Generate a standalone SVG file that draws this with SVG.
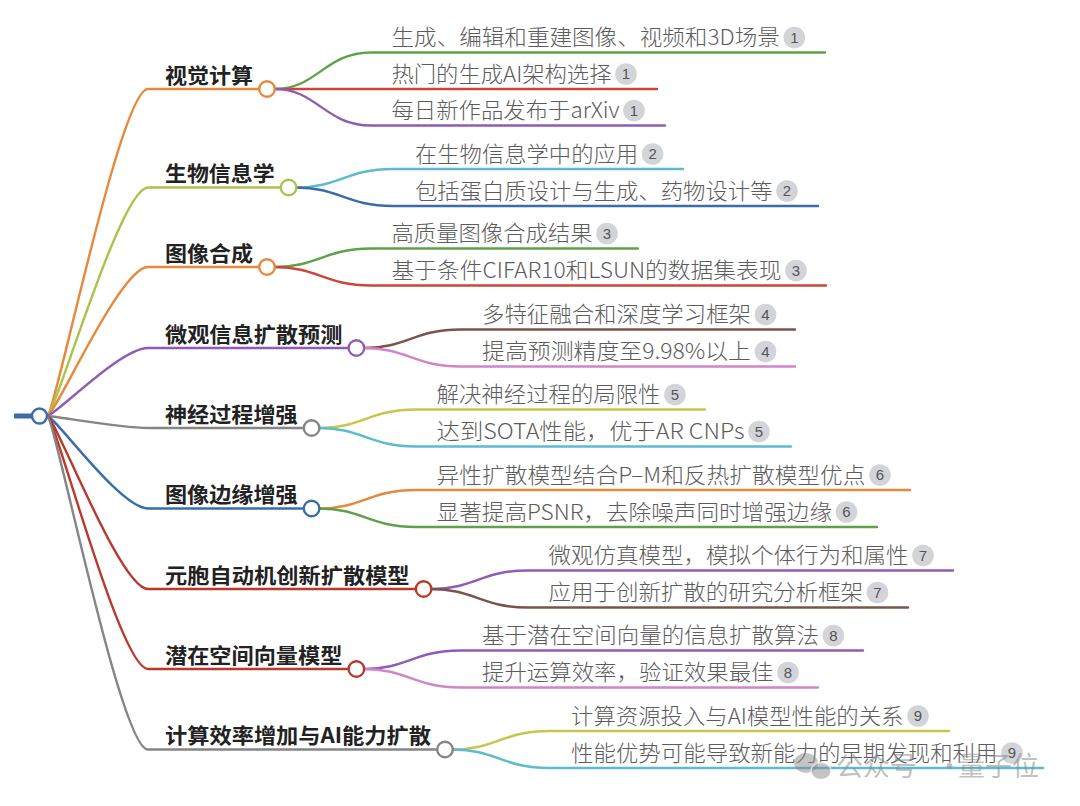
<svg xmlns="http://www.w3.org/2000/svg" width="1080" height="806" viewBox="0 0 1080 806">
<style>
.bt{font-family:"Noto Sans CJK SC","Noto Sans",sans-serif;font-weight:700;font-size:21px;fill:#222}
.st{font-family:"Noto Sans CJK SC","Noto Sans",sans-serif;font-weight:300;font-size:22px;fill:#5c5c5c}
.bn{font-family:"Liberation Sans","Noto Sans",sans-serif;font-size:15px;fill:#555;text-anchor:middle}
.bg{fill:#D2D4D9}
.ln{fill:none;stroke-width:2.4;stroke-linecap:round}
.nd{fill:#fff;stroke-width:2.4}
.wm{font-family:"Noto Sans CJK SC",sans-serif;font-size:27px;fill:#8a8a8a;fill-opacity:0.55}
</style>
<rect width="1080" height="806" fill="#fff"/>
<g id="connectors">
  <path class="ln" stroke="#E8883A" d="M47 416 C55 416 120 89 148 89 L259 89"/>
  <path class="ln" stroke="#AAC44B" d="M47 416 C55 416 120 187.5 148 187.5 L280.6 187.5"/>
  <path class="ln" stroke="#E8883A" d="M47 416 C55 416 120 267 148 267 L259 267"/>
  <path class="ln" stroke="#8E5CB5" d="M47 416 C55 416 120 348 148 348 L348.4 348"/>
  <path class="ln" stroke="#858585" d="M47 416 C55 416 120 428 148 428 L303.6 428"/>
  <path class="ln" stroke="#3A6DA8" d="M47 416 C55 416 120 508.5 148 508.5 L303.6 508.5"/>
  <path class="ln" stroke="#B83A2F" d="M47 416 C55 416 120 589 148 589 L415.6 589"/>
  <path class="ln" stroke="#B83A2F" d="M47 416 C55 416 120 669 148 669 L348.4 669"/>
  <path class="ln" stroke="#858585" d="M47 416 C55 416 120 749.5 148 749.5 L437 749.5"/>
  <path class="ln" stroke="#5FA148" d="M275 89 C317 89 325 52.5 371 52.5 L825 52.5"/>
  <path class="ln" stroke="#C9463A" d="M275 89 L657 89"/>
  <path class="ln" stroke="#8E5CB5" d="M275 89 C317 89 325 125.5 371 125.5 L665 125.5"/>
  <path class="ln" stroke="#5BBCCF" d="M296.6 187.5 C338.6 187.5 346.6 169 392.6 169 L683 169"/>
  <path class="ln" stroke="#3A6DA8" d="M296.6 187.5 C338.6 187.5 346.6 206 392.6 206 L818 206"/>
  <path class="ln" stroke="#5FA148" d="M275 267 C317 267 325 248.5 371 248.5 L638 248.5"/>
  <path class="ln" stroke="#C9463A" d="M275 267 C317 267 325 285.5 371 285.5 L826 285.5"/>
  <path class="ln" stroke="#7B5449" d="M364.4 348 C406.4 348 414.4 329.5 460.4 329.5 L795 329.5"/>
  <path class="ln" stroke="#D185C9" d="M364.4 348 C406.4 348 414.4 366.5 460.4 366.5 L795 366.5"/>
  <path class="ln" stroke="#C6C64B" d="M319.6 428 C361.6 428 369.6 409.5 415.6 409.5 L705 409.5"/>
  <path class="ln" stroke="#5BBCCF" d="M319.6 428 C361.6 428 369.6 446.5 415.6 446.5 L791 446.5"/>
  <path class="ln" stroke="#E8883A" d="M319.6 508.5 C361.6 508.5 369.6 490 415.6 490 L910 490"/>
  <path class="ln" stroke="#5FA148" d="M319.6 508.5 C361.6 508.5 369.6 527 415.6 527 L877 527"/>
  <path class="ln" stroke="#8E5CB5" d="M431.6 589 C473.6 589 481.6 570.5 527.6 570.5 L953 570.5"/>
  <path class="ln" stroke="#7B5449" d="M431.6 589 C473.6 589 481.6 607.5 527.6 607.5 L908 607.5"/>
  <path class="ln" stroke="#8E5CB5" d="M364.4 669 C406.4 669 414.4 650.5 460.4 650.5 L863 650.5"/>
  <path class="ln" stroke="#D185C9" d="M364.4 669 C406.4 669 414.4 687.5 460.4 687.5 L818 687.5"/>
  <path class="ln" stroke="#C6C64B" d="M453 749.5 C495 749.5 503 731 549 731 L949 731"/>
  <path class="ln" stroke="#5BBCCF" d="M453 749.5 C495 749.5 503 768 549 768 L1043 768"/>
</g>
<g id="root">
  <line x1="14" y1="416" x2="32" y2="416" stroke="#3A6DA8" stroke-width="5"/>
  <circle class="nd" cx="39.5" cy="416" r="7.5" stroke="#3A6DA8"/>
</g>
<g id="b1">
  <text class="bt" x="165" y="82.5" textLength="88" lengthAdjust="spacingAndGlyphs">视觉计算</text>
  <circle class="nd" cx="267" cy="89" r="7.8" stroke="#E8883A"/>
</g>
<g id="b1s1"><text class="st" x="391.5" y="45" textLength="388.3" lengthAdjust="spacingAndGlyphs">生成、编辑和重建图像、视频和3D场景</text><circle class="bg" cx="794.3" cy="37.5" r="10.8"/><text class="bn" x="794.3" y="42.8">1</text></g>
<g id="b1s2"><text class="st" x="391.5" y="81.5" textLength="220" lengthAdjust="spacingAndGlyphs">热门的生成AI架构选择</text><circle class="bg" cx="626" cy="74" r="10.8"/><text class="bn" x="626" y="79.3">1</text></g>
<g id="b1s3"><text class="st" x="391.5" y="118" textLength="228" lengthAdjust="spacingAndGlyphs">每日新作品发布于arXiv</text><circle class="bg" cx="634" cy="110.5" r="10.8"/><text class="bn" x="634" y="115.8">1</text></g>
<g id="b2">
  <text class="bt" x="165" y="181" textLength="109.6" lengthAdjust="spacingAndGlyphs">生物信息学</text>
  <circle class="nd" cx="288.6" cy="187.5" r="7.8" stroke="#AAC44B"/>
</g>
<g id="b2s1"><text class="st" x="415" y="161.5" textLength="223.1" lengthAdjust="spacingAndGlyphs">在生物信息学中的应用</text><circle class="bg" cx="652.6" cy="154" r="10.8"/><text class="bn" x="652.6" y="159.3">2</text></g>
<g id="b2s2"><text class="st" x="415" y="198.5" textLength="357.5" lengthAdjust="spacingAndGlyphs">包括蛋白质设计与生成、药物设计等</text><circle class="bg" cx="787" cy="191" r="10.8"/><text class="bn" x="787" y="196.3">2</text></g>
<g id="b3">
  <text class="bt" x="165" y="260.5" textLength="88" lengthAdjust="spacingAndGlyphs">图像合成</text>
  <circle class="nd" cx="267" cy="267" r="7.8" stroke="#E8883A"/>
</g>
<g id="b3s1"><text class="st" x="391.5" y="241" textLength="201" lengthAdjust="spacingAndGlyphs">高质量图像合成结果</text><circle class="bg" cx="607" cy="233.5" r="10.8"/><text class="bn" x="607" y="238.8">3</text></g>
<g id="b3s2"><text class="st" x="391.5" y="278" textLength="390" lengthAdjust="spacingAndGlyphs">基于条件CIFAR10和LSUN的数据集表现</text><circle class="bg" cx="796" cy="270.5" r="10.8"/><text class="bn" x="796" y="275.8">3</text></g>
<g id="b4">
  <text class="bt" x="165" y="341.5" textLength="177.4" lengthAdjust="spacingAndGlyphs">微观信息扩散预测</text>
  <circle class="nd" cx="356.4" cy="348" r="7.8" stroke="#8E5CB5"/>
</g>
<g id="b4s1"><text class="st" x="482" y="322" textLength="269" lengthAdjust="spacingAndGlyphs">多特征融合和深度学习框架</text><circle class="bg" cx="765.5" cy="314.5" r="10.8"/><text class="bn" x="765.5" y="319.8">4</text></g>
<g id="b4s2"><text class="st" x="482" y="359" textLength="269" lengthAdjust="spacingAndGlyphs">提高预测精度至9.98%以上</text><circle class="bg" cx="765.5" cy="351.5" r="10.8"/><text class="bn" x="765.5" y="356.8">4</text></g>
<g id="b5">
  <text class="bt" x="165" y="421.5" textLength="132.6" lengthAdjust="spacingAndGlyphs">神经过程增强</text>
  <circle class="nd" cx="311.6" cy="428" r="7.8" stroke="#858585"/>
</g>
<g id="b5s1"><text class="st" x="436.6" y="402" textLength="223.9" lengthAdjust="spacingAndGlyphs">解决神经过程的局限性</text><circle class="bg" cx="675" cy="394.5" r="10.8"/><text class="bn" x="675" y="399.8">5</text></g>
<g id="b5s2"><text class="st" x="436.6" y="439" textLength="307.9" lengthAdjust="spacingAndGlyphs">达到SOTA性能，优于AR CNPs</text><circle class="bg" cx="759" cy="431.5" r="10.8"/><text class="bn" x="759" y="436.8">5</text></g>
<g id="b6">
  <text class="bt" x="165" y="502" textLength="132.6" lengthAdjust="spacingAndGlyphs">图像边缘增强</text>
  <circle class="nd" cx="311.6" cy="508.5" r="7.8" stroke="#3A6DA8"/>
</g>
<g id="b6s1"><text class="st" x="436.6" y="482.5" textLength="428.9" lengthAdjust="spacingAndGlyphs">异性扩散模型结合P–M和反热扩散模型优点</text><circle class="bg" cx="880" cy="475" r="10.8"/><text class="bn" x="880" y="480.3">6</text></g>
<g id="b6s2"><text class="st" x="436.6" y="519.5" textLength="395.4" lengthAdjust="spacingAndGlyphs">显著提高PSNR，去除噪声同时增强边缘</text><circle class="bg" cx="846.5" cy="512" r="10.8"/><text class="bn" x="846.5" y="517.3">6</text></g>
<g id="b7">
  <text class="bt" x="165" y="582.5" textLength="244.6" lengthAdjust="spacingAndGlyphs">元胞自动机创新扩散模型</text>
  <circle class="nd" cx="423.6" cy="589" r="7.8" stroke="#B83A2F"/>
</g>
<g id="b7s1"><text class="st" x="548.6" y="563" textLength="359.9" lengthAdjust="spacingAndGlyphs">微观仿真模型，模拟个体行为和属性</text><circle class="bg" cx="923" cy="555.5" r="10.8"/><text class="bn" x="923" y="560.8">7</text></g>
<g id="b7s2"><text class="st" x="548.6" y="600" textLength="314.4" lengthAdjust="spacingAndGlyphs">应用于创新扩散的研究分析框架</text><circle class="bg" cx="877.5" cy="592.5" r="10.8"/><text class="bn" x="877.5" y="597.8">7</text></g>
<g id="b8">
  <text class="bt" x="165" y="662.5" textLength="177.4" lengthAdjust="spacingAndGlyphs">潜在空间向量模型</text>
  <circle class="nd" cx="356.4" cy="669" r="7.8" stroke="#B83A2F"/>
</g>
<g id="b8s1"><text class="st" x="482" y="643" textLength="336.9" lengthAdjust="spacingAndGlyphs">基于潜在空间向量的信息扩散算法</text><circle class="bg" cx="833.4" cy="635.5" r="10.8"/><text class="bn" x="833.4" y="640.8">8</text></g>
<g id="b8s2"><text class="st" x="482" y="680" textLength="291.5" lengthAdjust="spacingAndGlyphs">提升运算效率，验证效果最佳</text><circle class="bg" cx="788" cy="672.5" r="10.8"/><text class="bn" x="788" y="677.8">8</text></g>
<g id="b9">
  <text class="bt" x="165" y="743" textLength="266" lengthAdjust="spacingAndGlyphs">计算效率增加与AI能力扩散</text>
  <circle class="nd" cx="445" cy="749.5" r="7.8" stroke="#858585"/>
</g>
<g id="b9s1"><text class="st" x="571" y="723.5" textLength="332.5" lengthAdjust="spacingAndGlyphs">计算资源投入与AI模型性能的关系</text><circle class="bg" cx="918" cy="716" r="10.8"/><text class="bn" x="918" y="721.3">9</text></g>
<g id="b9s2"><text class="st" x="571" y="760.5" textLength="426.5" lengthAdjust="spacingAndGlyphs">性能优势可能导致新能力的早期发现和利用</text><circle class="bg" cx="1012" cy="753" r="10.8"/><text class="bn" x="1012" y="758.3">9</text></g>
<g id="watermark">
  <ellipse cx="806" cy="763" rx="12" ry="10" fill="#8a8a8a" fill-opacity="0.5"/>
  <ellipse cx="821" cy="771" rx="10" ry="8.5" fill="#8a8a8a" fill-opacity="0.5" stroke="#fff" stroke-width="1.5" stroke-opacity="0.6"/>
  <text class="wm" x="836" y="776">公众号</text>
  <text class="wm" x="936" y="776">·</text>
  <text class="wm" x="958" y="776">量子位</text>
</g>
</svg>
